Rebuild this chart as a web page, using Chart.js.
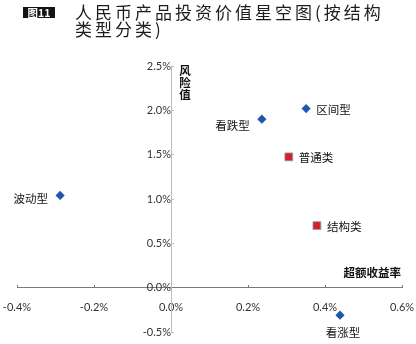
<!DOCTYPE html>
<html>
<head>
<meta charset="utf-8">
<script src="https://cdn.jsdelivr.net/npm/chart.js@4/dist/chart.umd.min.js"></script>
<style>
  html, body { margin: 0; padding: 0; background: #fff; }
  #wrap { position: relative; width: 416px; height: 344px; overflow: hidden; }
  canvas { position: absolute; left: 0; top: 0; }
  #badge {
    position: absolute; left: 23px; top: 7px; width: 32px; height: 11px;
    background: #141414; color: #fff; text-align: center;
    font: bold 10.5px/11px "Noto Sans CJK SC", sans-serif;
  }
  #title {
    position: absolute; left: 75px; top: 3px;
    font-family: "Noto Sans CJK SC", sans-serif; font-size: 17px; line-height: 17px;
    letter-spacing: 3px; color: #1c1c1c; white-space: nowrap;
  }
</style>
</head>
<body>
<div id="wrap">
  <canvas id="chart" width="416" height="344"></canvas>
  <div id="badge">图11</div>
  <div id="title">人民币产品投资价值星空图(按结构<br>类型分类)</div>
</div>
<script>
// Product groups by structure type (blue diamonds)
const typeNames  = ['波动型', '看跌型', '区间型', '看涨型'];
const typeReturn = [-0.288, 0.236, 0.351, 0.439];   // 超额收益率 (%)
const typeRisk   = [1.04, 1.90, 2.02, -0.31];        // 风险值 (%)

// Product groups by class (red squares)
const classNames  = ['普通类', '结构类'];
const classReturn = [0.306, 0.379];
const classRisk   = [1.475, 0.70];

// Axis ticks (%)
const xTicks = [-0.4, -0.2, 0.0, 0.2, 0.4, 0.6];
const yTicks = [-0.5, 0.0, 0.5, 1.0, 1.5, 2.0, 2.5];

const toPoints = (xs, ys) => xs.map((x, i) => ({ x: x, y: ys[i] }));
const pct = v => Number(v).toFixed(1) + '%';

// where each name sits next to its marker
const typePlace  = ['left', 'leftLow', 'right', 'below'];
const classPlace = ['right', 'right'];

// axes crossing inside the plot should not push the plot inwards
const noOverhang = s => { s.paddingLeft = 0; s.paddingRight = 0; s.paddingTop = 0; s.paddingBottom = 0; };

const nameLabels = {
  id: 'nameLabels',
  afterDatasetsDraw(chart) {
    const ctx = chart.ctx;
    ctx.save();
    ctx.font = '11.5px "Noto Sans CJK SC", sans-serif';
    ctx.fillStyle = '#111';
    ctx.textBaseline = 'middle';
    chart.data.datasets.forEach((ds, di) => {
      const meta = chart.getDatasetMeta(di);
      meta.data.forEach((pt, i) => {
        const name = ds.names[i];
        const place = ds.places[i];
        let x = pt.x, y = pt.y;
        if (place === 'left') { ctx.textAlign = 'right'; x -= 12; y += 3; }
        else if (place === 'leftLow') { ctx.textAlign = 'right'; x -= 12; y += 6; }
        else if (place === 'right') { ctx.textAlign = 'left'; x += 10; y += 1; }
        else { ctx.textAlign = 'center'; x += 3; y += 17; }
        ctx.fillText(name, x, y);
      });
    });

    // axis titles
    const xs = chart.scales.x, ys = chart.scales.y;
    const area = chart.chartArea;
    ctx.font = 'bold 11.5px "Noto Sans CJK SC", sans-serif';
    ctx.fillStyle = '#111';
    ctx.textAlign = 'center';
    const yTitle = '风险值';
    const tx = xs.getPixelForValue(0) + 14;
    for (let i = 0; i < yTitle.length; i++) {
      ctx.fillText(yTitle[i], tx, area.top + 5 + i * 12);
    }
    ctx.textAlign = 'right';
    ctx.fillText('超额收益率', area.right - 1, ys.getPixelForValue(0) - 15);
    ctx.restore();
  }
};

new Chart(document.getElementById('chart'), {
  type: 'scatter',
  data: {
    datasets: [
      {
        label: '结构类型',
        names: typeNames,
        places: typePlace,
        data: toPoints(typeReturn, typeRisk),
        pointStyle: 'rectRot',
        pointRadius: 4.6,
        pointHoverRadius: 4.6,
        backgroundColor: '#1f58ab',
        borderColor: '#1f58ab',
        borderWidth: 0
      },
      {
        label: '产品类别',
        names: classNames,
        places: classPlace,
        data: toPoints(classReturn, classRisk),
        pointStyle: 'rect',
        pointRadius: 5.6,
        pointHoverRadius: 5.6,
        backgroundColor: '#d3202a',
        borderColor: '#8fa6cc',
        borderWidth: 0.8
      }
    ]
  },
  options: {
    responsive: false,
    devicePixelRatio: 1,
    animation: false,
    layout: { padding: { left: 17, right: 14, top: 66, bottom: 12 } },
    plugins: { legend: { display: false }, tooltip: { enabled: false }, title: { display: false } },
    scales: {
      x: {
        type: 'linear',
        position: { y: 0 },
        min: xTicks[0],
        max: xTicks[xTicks.length - 1],
        afterBuildTicks: s => { s.ticks = xTicks.map(v => ({ value: v })); },
        afterFit: noOverhang,
        grid: { drawOnChartArea: false, tickLength: -3, color: '#7a7a7a', lineWidth: 1 },
        border: { color: '#7a7a7a', width: 1 },
        ticks: {
          callback: v => pct(v),
          font: { family: 'Lato', size: 11 },
          color: '#333',
          padding: 16,
          maxRotation: 0
        }
      },
      y: {
        type: 'linear',
        position: { x: 0 },
        min: yTicks[0],
        max: yTicks[yTicks.length - 1],
        afterBuildTicks: s => { s.ticks = yTicks.map(v => ({ value: v })); },
        afterFit: noOverhang,
        grid: { drawOnChartArea: false, tickLength: -3, color: '#bcbcbc', lineWidth: 1 },
        border: { color: '#bcbcbc', width: 1 },
        ticks: {
          callback: v => pct(v),
          font: { family: 'Lato', size: 11 },
          color: '#333',
          padding: 15
        }
      }
    }
  },
  plugins: [nameLabels]
});
</script>
</body>
</html>
